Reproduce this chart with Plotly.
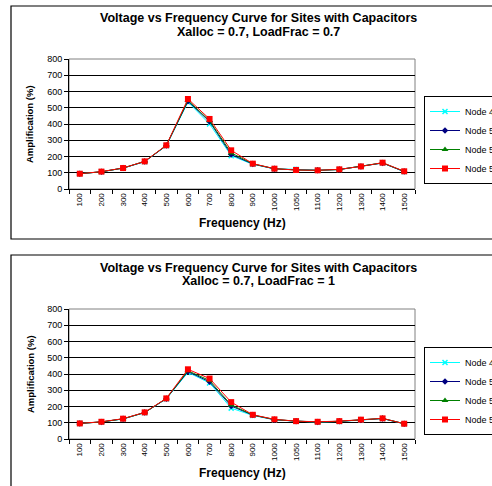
import plotly.graph_objects as go

freq = ["100", "200", "300", "400", "500", "600", "700", "800", "900",
        "1000", "1050", "1100", "1200", "1300", "1400", "1500"]

# Chart 1: Xalloc = 0.7, LoadFrac = 0.7
a_node49 = [94, 106, 128, 168, 266, 535, 400, 205, 152, 124, 121, 116, 120, 138, 160, 107]
a_node50 = [94, 106, 129, 169, 267, 540, 415, 212, 154, 124, 118, 115, 120, 138, 160, 107]
a_node55 = [94, 106, 129, 170, 268, 545, 420, 222, 155, 125, 117, 115, 120, 139, 161, 108]
a_node57 = [94, 107, 129, 170, 269, 554, 431, 238, 156, 125, 117, 115, 121, 139, 162, 109]

# Chart 2: Xalloc = 0.7, LoadFrac = 1
b_node49 = [96, 105, 123, 162, 247, 410, 345, 190, 145, 118, 110, 104, 108, 116, 125, 94]
b_node50 = [96, 105, 124, 163, 248, 415, 352, 203, 147, 119, 110, 105, 109, 117, 126, 94]
b_node55 = [96, 105, 124, 163, 249, 420, 360, 210, 148, 120, 110, 105, 109, 118, 127, 94]
b_node57 = [96, 106, 125, 164, 250, 429, 372, 227, 149, 121, 110, 106, 110, 119, 127, 94]

names = ["Node 49", "Node 50", "Node 55", "Node 57"]
colors = ["#00FFFF", "#000080", "#008000", "#FF0000"]
symbols = ["x-thin", "diamond", "triangle-up", "square"]
sizes = [5, 5, 6, 6]

W, H = 492, 486
FONT = "Arial, Liberation Sans, sans-serif"

def px_x(p):
    return p / W

def px_y(p):
    return 1 - p / H

fig = go.Figure()

series_sets = [
    ([a_node49, a_node50, a_node55, a_node57], "x", "y", "legend"),
    ([b_node49, b_node50, b_node55, b_node57], "x2", "y2", "legend2"),
]
for data, xa, ya, lg in series_sets:
    for vals, nm, col, sym, sz in zip(data, names, colors, symbols, sizes):
        marker = dict(color=col, symbol=sym, size=sz)
        if sym == "x-thin":
            marker["line"] = dict(color=col, width=1.5)
        fig.add_trace(go.Scatter(
            x=freq, y=vals, name=nm, mode="lines+markers",
            line=dict(color=col, width=1), marker=marker,
            xaxis=xa, yaxis=ya, legend=lg,
        ))

xdom = [px_x(69), px_x(415)]
top_dom = [px_y(189), px_y(59)]
bot_dom = [px_y(439), px_y(309)]

xaxis_common = dict(
    type="category", domain=xdom, showgrid=False, showline=True,
    linecolor="#000000", linewidth=1, ticks="outside", ticklen=4,
    tickcolor="#000000", tickson="boundaries", tickangle=-90,
    tickfont=dict(family=FONT, size=8, color="#000000"),
    range=[-0.5, len(freq) - 0.5], fixedrange=True,
)
yaxis_common = dict(
    range=[0, 800], dtick=100, showgrid=True, gridcolor="#000000",
    gridwidth=1, showline=True, linecolor="#000000", linewidth=1,
    ticks="outside", ticklen=4, tickcolor="#000000", zeroline=False,
    tickfont=dict(family=FONT, size=9, color="#000000"), fixedrange=True,
)

legend_common = dict(
    bgcolor="#FFFFFF", bordercolor="#000000", borderwidth=1,
    font=dict(family=FONT, size=9, color="#000000"),
    xanchor="left", yanchor="top", tracegroupgap=0,
    itemwidth=30,
)

fig.update_layout(
    width=W, height=H,
    margin=dict(l=0, r=0, t=0, b=0, autoexpand=False),
    paper_bgcolor="#FFFFFF", plot_bgcolor="#FFFFFF",
    font=dict(family=FONT, color="#000000"),
    xaxis=dict(xaxis_common, anchor="y"),
    yaxis=dict(yaxis_common, domain=top_dom, anchor="x"),
    xaxis2=dict(xaxis_common, anchor="y2"),
    yaxis2=dict(yaxis_common, domain=bot_dom, anchor="x2"),
    legend=dict(legend_common, x=px_x(424), y=px_y(96)),
    legend2=dict(legend_common, x=px_x(424), y=px_y(347)),
    showlegend=True,
    hovermode=False,
)

shapes = []
# outer chart borders (right / bottom edges run past the picture)
shapes.append(dict(type="rect", xref="paper", yref="paper",
                   x0=px_x(11), x1=px_x(540), y0=px_y(239), y1=px_y(6),
                   line=dict(color="#000000", width=1.2), layer="below"))
shapes.append(dict(type="rect", xref="paper", yref="paper",
                   x0=px_x(11), x1=px_x(540), y0=px_y(540), y1=px_y(255),
                   line=dict(color="#000000", width=1.2), layer="below"))
# plot area gray borders
for dom in (top_dom, bot_dom):
    shapes.append(dict(type="rect", xref="paper", yref="paper",
                       x0=xdom[0], x1=xdom[1], y0=dom[0], y1=dom[1],
                       line=dict(color="#808080", width=1), layer="below"))
fig.update_layout(shapes=shapes)

ann = []
titles = [
    ("Voltage vs Frequency Curve for Sites with Capacitors", 18),
    ("Xalloc = 0.7, LoadFrac = 0.7", 32),
    ("Voltage vs Frequency Curve for Sites with Capacitors", 268),
    ("Xalloc = 0.7, LoadFrac = 1", 281),
]
for txt, yp in titles:
    ann.append(dict(text="<b>%s</b>" % txt, x=px_x(258), y=px_y(yp),
                    xref="paper", yref="paper", showarrow=False,
                    xanchor="center", yanchor="middle",
                    font=dict(family=FONT, size=12.5, color="#000000")))
for yc in ((59 + 189) / 2, (309 + 439) / 2):
    ann.append(dict(text="<b>Amplification (%)</b>", x=px_x(30), y=px_y(yc),
                    xref="paper", yref="paper", showarrow=False,
                    textangle=-90, xanchor="center", yanchor="middle",
                    font=dict(family=FONT, size=9.5, color="#000000")))
for yp in (223, 473):
    ann.append(dict(text="<b>Frequency (Hz)</b>", x=px_x(242), y=px_y(yp),
                    xref="paper", yref="paper", showarrow=False,
                    xanchor="center", yanchor="middle",
                    font=dict(family=FONT, size=12, color="#000000")))
fig.update_layout(annotations=ann)

page_js = ("document.body.style.margin='0';"
           "document.body.style.overflow='hidden';"
           "document.documentElement.style.overflow='hidden';")
fig.write_html("out.html", post_script=page_js,
               config={"displayModeBar": False, "staticPlot": True})
